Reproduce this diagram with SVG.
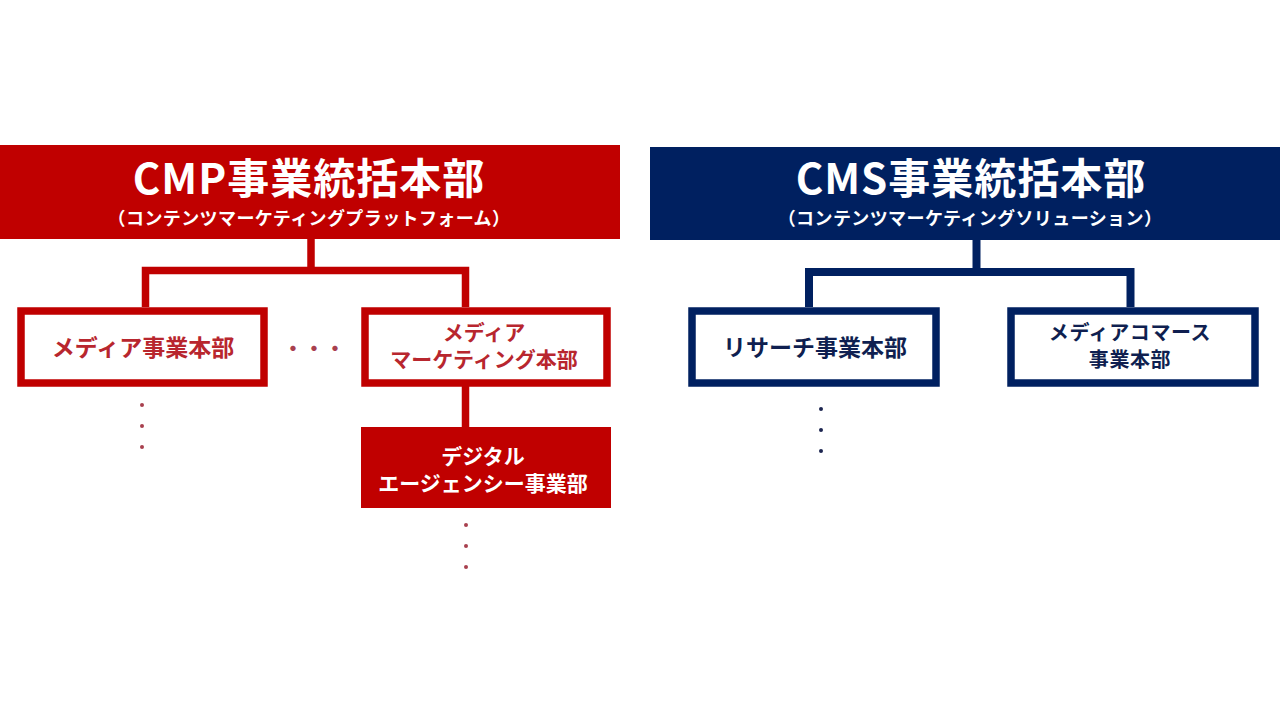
<svg xmlns="http://www.w3.org/2000/svg" width="1280" height="720" viewBox="0 0 1280 720">
<style>
text{font-family:"Noto Sans CJK JP","Noto Sans CJK SC",sans-serif;font-weight:700;text-anchor:middle}
.title{font-size:42px;fill:#ffffff;letter-spacing:1px}
.sub{font-size:18px;fill:#ffffff;letter-spacing:0.4px}
.big{font-size:23px}
.sm{font-size:21px}
.sm2{font-size:20px;letter-spacing:0.6px}
.redtxt{fill:#b8262e}
.bluetxt{fill:#0f1f50}
.wtxt{fill:#ffffff}
.redbox{fill:#ffffff;stroke:#c00000;stroke-width:7.5}
.bluebox{fill:#ffffff;stroke:#002060;stroke-width:7.5}
.redline{fill:none;stroke:#c00000;stroke-width:7.5;stroke-linejoin:miter;stroke-linecap:butt}
.blueline{fill:none;stroke:#002060;stroke-width:8;stroke-linejoin:miter;stroke-linecap:butt}
.rdot{font-size:21px;fill:#a8404e}
.rc{fill:#a8404e}
.bc{fill:#1c2550}
</style>
<rect width="1280" height="720" fill="#ffffff"/>
<g id="connectors">
<path class="redline" d="M311,239 V270.5"/>
<path class="redline" d="M145.5,307 V270.5 H465.5 V307"/>
<path class="redline" d="M465.5,386 V428"/>
<path class="blueline" d="M976.5,240 V272"/>
<path class="blueline" d="M809,307 V272 H1130.5 V307"/>
</g>
<g id="cmp-header">
<rect x="0" y="145" width="620" height="94" fill="#c00000"/>
<text class="title" x="309" y="194">CMP事業統括本部</text>
<text class="sub" x="309" y="225">（コンテンツマーケティングプラットフォーム）</text>
</g>
<g id="cms-header">
<rect x="650" y="147" width="630" height="93" fill="#002060"/>
<text class="title" x="971" y="194">CMS事業統括本部</text>
<text class="sub" x="970" y="225">（コンテンツマーケティングソリューション）</text>
</g>
<g id="media-hq">
<rect class="redbox" x="21" y="311" width="243" height="72"/>
<text class="big redtxt" x="143" y="356">メディア事業本部</text>
</g>
<g id="media-marketing-hq">
<rect class="redbox" x="365" y="311" width="242" height="72"/>
<text class="sm redtxt"><tspan x="484" y="340">メディア</tspan><tspan x="484" y="367">マーケティング本部</tspan></text>
</g>
<g id="digital-agency">
<rect x="361" y="427" width="250" height="81" fill="#c00000"/>
<text class="sm wtxt"><tspan x="483" y="464">デジタル</tspan><tspan x="483" y="491">エージェンシー事業部</tspan></text>
</g>
<g id="research-hq">
<rect class="bluebox" x="692" y="311" width="244" height="72"/>
<text class="big bluetxt" x="815" y="356">リサーチ事業本部</text>
</g>
<g id="media-commerce-hq">
<rect class="bluebox" x="1011" y="311" width="244" height="72"/>
<text class="sm2 bluetxt"><tspan x="1130" y="340">メディアコマース</tspan><tspan x="1130" y="367">事業本部</tspan></text>
</g>
<g id="ellipses">
<text class="rdot" x="314" y="356">・・・</text>
<circle class="rc" cx="142" cy="405" r="2"/>
<circle class="rc" cx="142" cy="426" r="2"/>
<circle class="rc" cx="142" cy="447" r="2"/>
<circle class="rc" cx="466" cy="525" r="2"/>
<circle class="rc" cx="466" cy="546" r="2"/>
<circle class="rc" cx="466" cy="567" r="2"/>
<circle class="bc" cx="821" cy="409" r="2"/>
<circle class="bc" cx="821" cy="430" r="2"/>
<circle class="bc" cx="821" cy="451" r="2"/>
</g>
</svg>
